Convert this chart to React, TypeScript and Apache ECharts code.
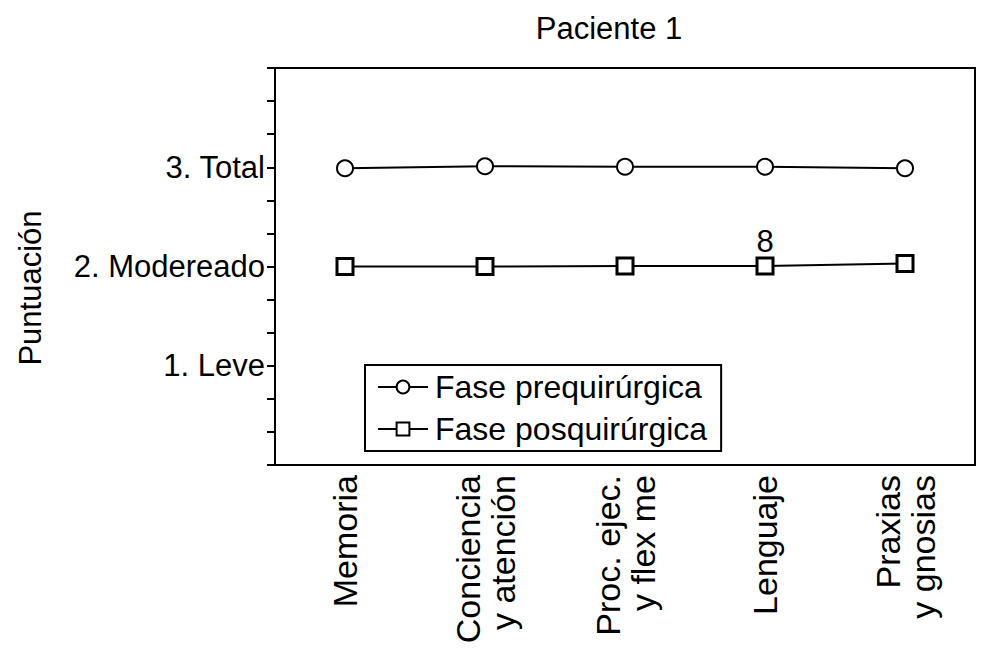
import React, { useEffect, useRef } from "react";
import * as echarts from "echarts";

const categories = [
  "Memoria",
  "Conciencia\ny atención",
  "Proc. ejec.\ny flex me",
  "Lenguaje",
  "Praxias\ny gnosias",
];
const preValues = [2.99, 3.01, 3.005, 3.005, 2.99];
const postValues = [2.0, 2.0, 2.005, 2.005, 2.03];
const yTickLabels: Record<number, string> = { 1: "1. Leve", 2: "2. Modereado", 3: "3. Total" };
const outlierIndex = 3;
const outlierLabel = "8";

const FONT = "Liberation Sans";

export default function App() {
  const ref = useRef<HTMLDivElement>(null);
  useEffect(() => {
    const chart = echarts.init(ref.current!, null, { renderer: "svg" });
    chart.setOption({
      animation: false,
      backgroundColor: "#ffffff",
      textStyle: { fontFamily: FONT, color: "#000" },
      title: {
        text: "Paciente 1",
        left: 604,
        top: 8,
        textAlign: "center",
        textStyle: { fontFamily: FONT, fontSize: 31, fontWeight: "normal", color: "#000" },
      },
      grid: {
        left: 275,
        right: 21,
        top: 68,
        bottom: 191,
        show: true,
        borderColor: "#000",
        borderWidth: 2,
        backgroundColor: "transparent",
      },
      legend: {
        orient: "vertical",
        left: 365,
        top: 365,
        width: 352,
        padding: [6, 14, 6, 12],
        itemGap: 10,
        itemWidth: 50,
        itemHeight: 16,
        borderColor: "#000",
        borderWidth: 2,
        backgroundColor: "#fff",
        textStyle: { fontFamily: FONT, fontSize: 32, color: "#000", padding: [0, 0, 0, 2] },
        data: ["Fase prequirúrgica", "Fase posquirúrgica"],
      },
      xAxis: {
        type: "category",
        data: categories,
        boundaryGap: true,
        axisLine: { lineStyle: { color: "#000", width: 2 } },
        axisTick: { alignWithLabel: true, length: 8, lineStyle: { color: "#000", width: 2 } },
        axisLabel: {
          rotate: 90,
          fontFamily: FONT,
          fontSize: 34,
          color: "#000",
          lineHeight: 35,
          margin: 10,
          interval: 0,
        },
      },
      yAxis: {
        type: "value",
        min: 0,
        max: 4,
        interval: 1,
        splitLine: { show: false },
        axisLine: { show: true, lineStyle: { color: "#000", width: 2 } },
        axisTick: { show: true, length: 8, lineStyle: { color: "#000", width: 2 } },
        minorTick: { show: true, splitNumber: 3, length: 8, lineStyle: { color: "#000", width: 2 } },
        minorSplitLine: { show: false },
        axisLabel: {
          fontFamily: FONT,
          fontSize: 31,
          color: "#000",
          margin: 10,
          formatter: (v: number) =>
            Math.abs(v - Math.round(v)) < 1e-6 && yTickLabels[Math.round(v)] ? yTickLabels[Math.round(v)] : "",
        },
      },
      graphic: [
        {
          type: "text",
          x: 30,
          y: 288,
          rotation: Math.PI / 2,
          style: {
            text: "Puntuación",
            fontFamily: FONT,
            fontSize: 31,
            fill: "#000",
            align: "center",
            verticalAlign: "middle",
          },
        },
      ],
      series: [
        {
          name: "Fase prequirúrgica",
          type: "line",
          data: preValues,
          symbol: "circle",
          symbolSize: 16,
          lineStyle: { color: "#000", width: 2 },
          itemStyle: { color: "#fff", borderColor: "#000", borderWidth: 2 },
        },
        {
          name: "Fase posquirúrgica",
          type: "line",
          data: postValues.map((v, i) =>
            i === outlierIndex
              ? {
                  value: v,
                  label: {
                    show: true,
                    position: "top",
                    distance: 0,
                    formatter: outlierLabel,
                    fontFamily: FONT,
                    fontSize: 31,
                    color: "#000",
                  },
                }
              : v
          ),
          symbol: "rect",
          symbolSize: 16,
          lineStyle: { color: "#000", width: 2 },
          itemStyle: { color: "#fff", borderColor: "#000", borderWidth: 3 },
        },
      ],
    });
    return () => chart.dispose();
  }, []);
  return (
    <div
      ref={ref}
      style={{ position: "fixed", left: 0, top: 0, width: 996, height: 656 }}
    />
  );
}
